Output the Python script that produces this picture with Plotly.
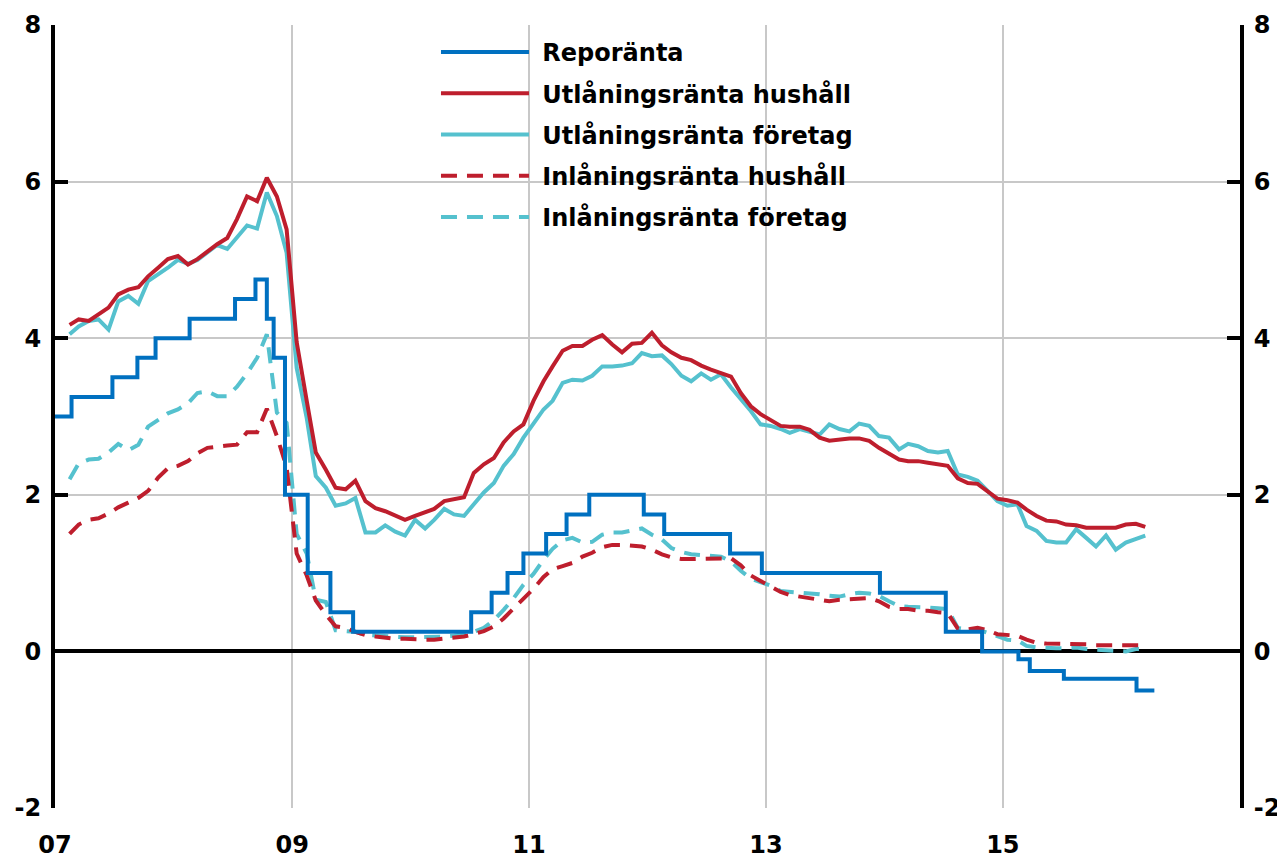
import pandas as pd
import plotly.graph_objects as go

# ---------------- data ----------------
months = pd.date_range("2007-01-15", periods=110, freq="MS") + pd.Timedelta(days=14)

utl_hush = [4.17, 4.24, 4.22, 4.30, 4.39, 4.56, 4.62, 4.65, 4.79, 4.90,
            5.01, 5.05, 4.94, 5.01, 5.11, 5.20, 5.28, 5.52, 5.81, 5.75,
            6.05, 5.81, 5.39, 3.95, 3.20, 2.54, 2.32, 2.09, 2.07, 2.18,
            1.92, 1.83, 1.79, 1.73, 1.68, 1.73, 1.78, 1.82, 1.92, 1.94,
            1.97, 2.28, 2.39, 2.47, 2.67, 2.81, 2.90, 3.20, 3.45, 3.64,
            3.84, 3.90, 3.90, 3.98, 4.04, 3.92, 3.82, 3.93, 3.94, 4.07,
            3.91, 3.82, 3.75, 3.72, 3.65, 3.60, 3.56, 3.51, 3.30, 3.13,
            3.03, 2.95, 2.88, 2.87, 2.87, 2.83, 2.73, 2.69, 2.71, 2.72,
            2.72, 2.69, 2.60, 2.53, 2.45, 2.43, 2.43, 2.41, 2.39, 2.37,
            2.21, 2.15, 2.14, 2.05, 1.95, 1.93, 1.90, 1.81, 1.73, 1.67,
            1.66, 1.62, 1.61, 1.58, 1.58, 1.59, 1.58, 1.62, 1.63, 1.59]

utl_for = [4.05, 4.15, 4.22, 4.24, 4.11, 4.47, 4.54, 4.44, 4.73, 4.81,
           4.90, 5.00, 4.95, 5.00, 5.10, 5.19, 5.14, 5.28, 5.44, 5.40,
           5.86, 5.56, 5.09, 3.62, 2.98, 2.24, 2.09, 1.86, 1.89, 1.96,
           1.52, 1.52, 1.61, 1.53, 1.48, 1.68, 1.57, 1.68, 1.82, 1.75,
           1.73, 1.88, 2.03, 2.15, 2.37, 2.52, 2.73, 2.91, 3.09, 3.20,
           3.43, 3.47, 3.46, 3.52, 3.64, 3.64, 3.65, 3.68, 3.81, 3.77,
           3.78, 3.67, 3.52, 3.45, 3.55, 3.47, 3.54, 3.37, 3.22, 3.07,
           2.90, 2.88, 2.84, 2.79, 2.84, 2.80, 2.77, 2.90, 2.84, 2.81,
           2.91, 2.88, 2.75, 2.73, 2.58, 2.65, 2.62, 2.56, 2.54, 2.56,
           2.26, 2.23, 2.18, 2.05, 1.92, 1.86, 1.88, 1.60, 1.54, 1.41,
           1.39, 1.39, 1.56, 1.45, 1.34, 1.48, 1.30, 1.39, 1.43, 1.48]

inl_hush = [1.50, 1.62, 1.68, 1.70, 1.76, 1.84, 1.90, 1.96, 2.05, 2.22,
            2.34, 2.37, 2.43, 2.53, 2.60, 2.62, 2.63, 2.64, 2.80, 2.80,
            3.10, 2.75, 2.35, 1.25, 0.97, 0.65, 0.47, 0.32, 0.30, 0.25,
            0.21, 0.19, 0.17, 0.16, 0.16, 0.15, 0.15, 0.15, 0.16, 0.17,
            0.19, 0.22, 0.26, 0.32, 0.42, 0.55, 0.67, 0.80, 0.95, 1.05,
            1.09, 1.13, 1.21, 1.26, 1.33, 1.36, 1.36, 1.35, 1.34, 1.30,
            1.24, 1.20, 1.18, 1.18, 1.18, 1.18, 1.18, 1.19, 1.10, 0.97,
            0.90, 0.83, 0.76, 0.72, 0.70, 0.67, 0.66, 0.64, 0.66, 0.67,
            0.67, 0.68, 0.64, 0.57, 0.54, 0.54, 0.52, 0.52, 0.50, 0.49,
            0.29, 0.28, 0.30, 0.27, 0.22, 0.21, 0.20, 0.15, 0.11, 0.10,
            0.10, 0.09, 0.09, 0.09, 0.08, 0.08, 0.08, 0.08, 0.08, 0.08]

inl_for = [2.20, 2.40, 2.45, 2.46, 2.54, 2.65, 2.57, 2.64, 2.87, 2.96,
           3.04, 3.09, 3.17, 3.30, 3.32, 3.26, 3.26, 3.38, 3.55, 3.75,
           4.05, 3.05, 2.92, 1.50, 1.25, 0.66, 0.63, 0.27, 0.26, 0.25,
           0.21, 0.20, 0.19, 0.19, 0.18, 0.18, 0.18, 0.19, 0.19, 0.20,
           0.22, 0.25, 0.30, 0.40, 0.53, 0.68, 0.85, 0.99, 1.17, 1.31,
           1.42, 1.45, 1.39, 1.40, 1.49, 1.52, 1.52, 1.54, 1.57, 1.49,
           1.43, 1.32, 1.27, 1.24, 1.23, 1.22, 1.21, 1.15, 1.03, 0.93,
           0.89, 0.84, 0.77, 0.76, 0.76, 0.75, 0.73, 0.71, 0.70, 0.73,
           0.75, 0.74, 0.71, 0.64, 0.58, 0.57, 0.57, 0.56, 0.55, 0.54,
           0.30, 0.28, 0.28, 0.24, 0.20, 0.15, 0.14, 0.07, 0.05, 0.04,
           0.04, 0.04, 0.05, 0.03, 0.02, 0.01, 0.00, 0.00, 0.03, 0.03]

repo_dates = ["2007-01-01", "2007-02-21", "2007-06-27", "2007-09-12", "2007-11-07",
              "2008-02-20", "2008-07-09", "2008-09-10", "2008-10-15", "2008-11-05",
              "2008-12-10", "2009-02-18", "2009-04-29", "2009-07-08", "2010-07-07",
              "2010-09-08", "2010-10-27", "2010-12-15", "2011-02-23", "2011-04-27",
              "2011-07-06", "2011-12-21", "2012-02-22", "2012-09-12", "2012-12-19",
              "2013-12-18", "2014-07-09", "2014-10-29", "2015-02-18", "2015-03-25",
              "2015-07-08", "2016-02-17", "2016-04-12"]
repo_rates = [3.00, 3.25, 3.50, 3.75, 4.00,
              4.25, 4.50, 4.75, 4.25, 3.75,
              2.00, 1.00, 0.50, 0.25, 0.50,
              0.75, 1.00, 1.25, 1.50, 1.75,
              2.00, 1.75, 1.50, 1.25, 1.00,
              0.75, 0.25, 0.00, -0.10, -0.25,
              -0.35, -0.50, -0.50]

x_tickvals = ["2007-01-01", "2009-01-01", "2011-01-01", "2013-01-01", "2015-01-01"]
x_ticktext = ["07", "09", "11", "13", "15"]
y_tickvals = [-2, 0, 2, 4, 6, 8]
y_ticktext = ["-2", "0", "2", "4", "6", "8"]

BLUE = "#0070C0"
RED = "#BE1E2D"
CYAN = "#55C1CE"
FONT = dict(family="DejaVu Sans", size=24, color="black", weight="bold")
SP = "\u00a0"

fig = go.Figure()
fig.add_trace(go.Scatter(x=months, y=inl_for, mode="lines", name=SP + "Inlåningsränta företag",
                         line=dict(color=CYAN, width=4, dash="16px,10px"),
                         legendrank=5, legendgroup="e"))
fig.add_trace(go.Scatter(x=months, y=inl_hush, mode="lines", name=SP + "Inlåningsränta hushåll",
                         line=dict(color=RED, width=4, dash="16px,10px"),
                         legendrank=4, legendgroup="d"))
fig.add_trace(go.Scatter(x=months, y=utl_for, mode="lines", name=SP + "Utlåningsränta företag",
                         line=dict(color=CYAN, width=4),
                         legendrank=3, legendgroup="c"))
fig.add_trace(go.Scatter(x=months, y=utl_hush, mode="lines", name=SP + "Utlåningsränta hushåll",
                         line=dict(color=RED, width=4),
                         legendrank=2, legendgroup="b"))
fig.add_trace(go.Scatter(x=repo_dates, y=repo_rates, mode="lines", name=SP + "Reporänta",
                         line=dict(color=BLUE, width=4, shape="hv"),
                         legendrank=1, legendgroup="a"))
# helper trace for the right-hand axis
fig.add_trace(go.Scatter(x=[None], y=[None], yaxis="y2", showlegend=False, hoverinfo="skip"))

axis_common = dict(
    range=[-2, 8], tickvals=y_tickvals, ticktext=y_ticktext,
    ticks="inside", ticklen=13, tickwidth=4,
    tickcolor="black", showline=True, linecolor="black", linewidth=4,
    tickfont=FONT, ticklabelstandoff=5, automargin=False,
)

# the page body adds an 8px offset, so the figure is sized to fit the window
fig.update_layout(
    width=1277, height=854,
    margin=dict(l=47, r=45, t=17, b=54),
    paper_bgcolor="white", plot_bgcolor="white",
    showlegend=True,
    legend=dict(x=0.3215, y=0.9936, xanchor="left", yanchor="top",
                font=FONT, bgcolor="rgba(0,0,0,0)", itemwidth=88,
                traceorder="grouped", tracegroupgap=7),
    xaxis=dict(
        type="date", range=["2007-01-01", "2017-01-01"],
        tickvals=x_tickvals, ticktext=x_ticktext, ticks="",
        showgrid=True, gridcolor="#C8C8C8", gridwidth=2,
        showline=False, zeroline=False, tickfont=FONT, ticklabelstandoff=20,
        automargin=False,
    ),
    yaxis=dict(
        **axis_common, side="left",
        showgrid=True, gridcolor="#C8C8C8", gridwidth=2,
        zeroline=True, zerolinecolor="black", zerolinewidth=4,
    ),
    yaxis2=dict(
        **axis_common, side="right", overlaying="y",
        showgrid=False, zeroline=False,
    ),
)

fig.write_html("out.html")
